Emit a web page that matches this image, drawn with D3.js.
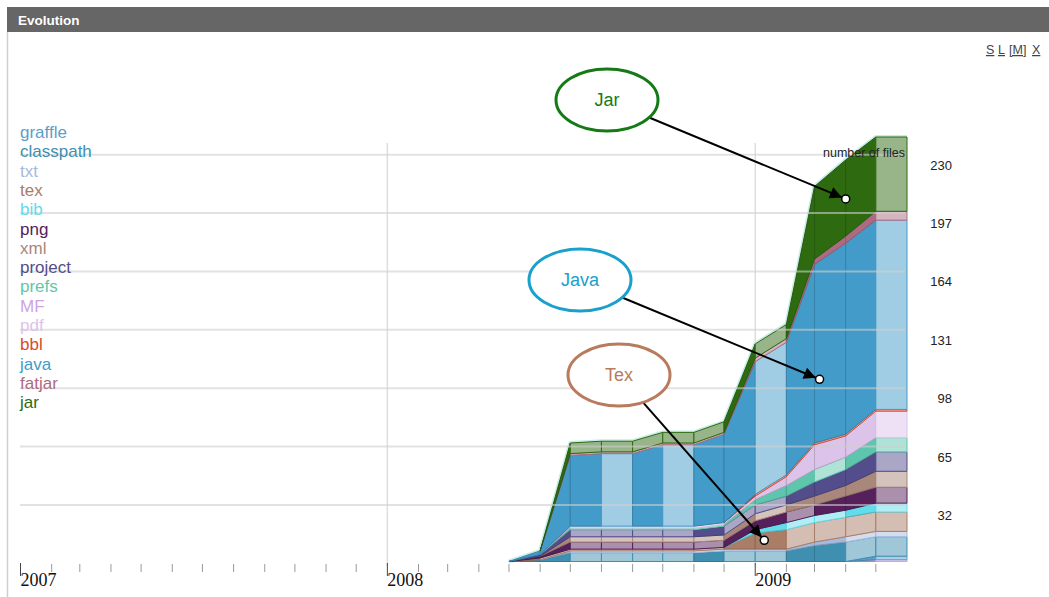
<!DOCTYPE html>
<html>
<head>
<meta charset="utf-8">
<script src="https://cdn.jsdelivr.net/npm/d3@7"></script>
<style>
  body { margin: 0; background: #fff; }
  svg { display: block; }
  text { font-family: "Liberation Sans", Arial, Helvetica, sans-serif; }
</style>
</head>
<body>
<svg id="chart" width="1049" height="597"></svg>
<script>
// Monthly snapshots of the repository (first day of each month)
const months = ["2008-05-01","2008-06-01","2008-07-01","2008-08-01","2008-09-01","2008-10-01","2008-11-01",
                "2008-12-01","2009-01-01","2009-02-01","2009-03-01","2009-04-01","2009-05-01","2009-06-01"];

// Number of files per type at each snapshot
const mf        = [0,0,0,0,0,0,0,0,0,0,0,0,1,1];
const graffle   = [0,0,0,0,0,0,0,0,0,0,0,0,2,2];
const classpath = [0,1,5,5,5,5,5,6,6,6,9,11,11,11];
const txt       = [0,0,1,1,1,1,1,1,1,1,2,3,3,3];
const tex       = [0,1,1,1,1,1,1,1,9,11,11,11,11,11];
const bib       = [0,0,0,0,0,0,0,0,2,4,4,4,5,5];
const png       = [0,1,4,4,4,4,4,4,5,6,6,8,9,9];
const xml       = [0,0,3,3,3,3,3,3,4,4,5,6,9,9];
const project   = [0,1,4,4,4,4,4,5,5,5,8,9,11,11];
const prefs     = [0,0,1,1,1,1,1,1,3,6,7,7,8,8];
const pdf       = [0,0,1,1,1,1,1,1,2,5,14,12,15,15];
const bbl       = [0,0,0,0,0,0,0,0,1,1,1,1,1,1];
const java      = [0,2,40,41,41,46,46,50,75,75,101,108,107,107];
const fatjar    = [0,0,1,1,1,1,1,1,2,2,3,4,5,5];
const jar       = [0,0,6,6,6,6,6,6,8,8,41,43,42,42];

// Stacking order (bottom to top) and legend order
const stackKeys  = ["MF","graffle","classpath","txt","tex","bib","png","xml","project","prefs","pdf","bbl","java","fatjar","jar"];
const legendKeys = ["graffle","classpath","txt","tex","bib","png","xml","project","prefs","MF","pdf","bbl","java","fatjar","jar"];
const yTickValues = [32, 65, 98, 131, 164, 197, 230];

const seriesValues = {
  MF: mf, graffle: graffle, classpath: classpath, txt: txt, tex: tex, bib: bib, png: png,
  xml: xml, project: project, prefs: prefs, pdf: pdf, bbl: bbl, java: java, fatjar: fatjar, jar: jar
};

const palette = {
  graffle: "#5a9eca", classpath: "#3f8fb1", txt: "#a6badd", tex: "#a97d66", bib: "#62dbea",
  png: "#55205b", xml: "#a9877a", project: "#534d8c", prefs: "#5fc6ae", MF: "#cda3e3",
  pdf: "#dcc3ea", bbl: "#d84a2e", java: "#439bc9", fatjar: "#ad6b83", jar: "#2e6b10"
};

// Callouts: label, colour, bubble centre, and the data point they point at
const notes = [
  { label: "Jar",  color: "#157a15", cx: 607, cy: 100, date: "2009-04-01", value: 205 },
  { label: "Java", color: "#19a0cd", cx: 580, cy: 280, date: "2009-03-06", value: 103 },
  { label: "Tex",  color: "#b97b5d", cx: 619, cy: 375, date: "2009-01-10", value: 12 }
];

const parse = d3.utcParse("%Y-%m-%d");
const start = parse("2007-01-01"), end = parse("2009-06-01");

const x = d3.scaleUtc().domain([start, end]).range([20.5, 907]);
const y = d3.scaleLinear().domain([0, 230]).range([561.5, 154.7]);

const rows = months.map((m, i) => {
  const r = { date: parse(m) };
  stackKeys.forEach(k => r[k] = seriesValues[k][i]);
  return r;
});
const stacked = d3.stack().keys(stackKeys)(rows);

const svg = d3.select("#chart");

// Panel header
svg.append("rect").attr("x", 7).attr("y", 7).attr("width", 1042).attr("height", 25).attr("fill", "#666");
svg.append("text").attr("x", 18).attr("y", 24.5).attr("font-size", 13.5).attr("font-weight", "bold")
  .attr("fill", "#fff").text("Evolution");
svg.append("line").attr("x1", 7.5).attr("x2", 7.5).attr("y1", 32).attr("y2", 597)
  .attr("stroke", "#cfcfcf").attr("stroke-width", 1.5);

// Size controls
const controls = [["S", 986], ["L", 998], ["[M]", 1009], ["X", 1032]];
svg.selectAll("text.ctl").data(controls).join("text").attr("class", "ctl")
  .attr("x", d => d[1]).attr("y", 54).attr("font-size", 12.5).attr("fill", "#444")
  .style("text-decoration", "underline").text(d => d[0]);

// Year grid lines (behind the stack)
const years = d3.utcYears(start, end);
svg.selectAll("line.ygrid").data(years.filter(d => d.getUTCFullYear() > 2007)).join("line")
  .attr("class", "ygrid")
  .attr("x1", d => x(d)).attr("x2", d => x(d)).attr("y1", 143).attr("y2", 566)
  .attr("stroke", "#dedede").attr("stroke-width", 1.5);

// Soft outline along the top of the stack
const stackTop = stacked[stacked.length - 1];
svg.append("path")
  .attr("d", d3.line().x(d => x(d.data.date)).y(d => y(d[1]))(stackTop))
  .attr("fill", "none").attr("stroke", "#c6ece6").attr("stroke-width", 4).attr("stroke-linejoin", "round");

// Stacked layers, one quadrilateral per month interval; intervals with no change are shaded lighter
const seg = d3.area().x(d => x(d.data.date)).y0(d => y(d[0])).y1(d => y(d[1]));
const layerG = svg.append("g");
stacked.forEach(layer => {
  const key = layer.key;
  const base = palette[key];
  const light = d3.interpolateRgb(base, "#fff")(0.5);
  for (let i = 0; i < layer.length - 1; i++) {
    const a = layer[i], b = layer[i + 1];
    const va = a.data[key], vb = b.data[key];
    if (va === 0 && vb === 0) continue;
    const same = va === vb;
    layerG.append("path")
      .attr("d", seg([a, b]))
      .attr("fill", same ? light : base)
      .attr("stroke", same ? base : d3.color(base).darker(0.5).formatHex())
      .attr("stroke-width", 1)
      .attr("stroke-linejoin", "round");
  }
});

// Horizontal grid lines drawn over the layers
svg.selectAll("line.hgrid").data(yTickValues).join("line").attr("class", "hgrid")
  .attr("x1", 20).attr("x2", 905).attr("y1", d => y(d)).attr("y2", d => y(d))
  .attr("stroke", "#cfcfcf").attr("stroke-opacity", 0.6).attr("stroke-width", 2);

// Right-hand value labels
svg.selectAll("text.ylab").data(yTickValues).join("text").attr("class", "ylab")
  .attr("x", 952).attr("y", d => y(d) + 15).attr("text-anchor", "end")
  .attr("font-size", 13).attr("fill", "#222").text(d => d);

svg.append("text").attr("x", 905).attr("y", 157).attr("text-anchor", "end")
  .attr("font-size", 12.5).attr("fill", "#222").text("number of files");

// Time axis: month ticks and year labels
svg.selectAll("line.mtick").data(d3.utcMonths(start, end)).join("line").attr("class", "mtick")
  .attr("x1", d => x(d)).attr("x2", d => x(d))
  .attr("y1", d => d.getUTCMonth() === 0 ? 563 : 564)
  .attr("y2", d => d.getUTCMonth() === 0 ? 576 : 572)
  .attr("stroke", d => d.getUTCMonth() === 0 ? "#444" : "#999").attr("stroke-width", 1);

svg.selectAll("text.year").data(years).join("text").attr("class", "year")
  .attr("x", d => x(d)).attr("y", 586)
  .style("font-family", '"Liberation Serif", "Times New Roman", serif')
  .attr("font-size", 18).attr("fill", "#111")
  .text(d => d.getUTCFullYear());

// Legend
svg.selectAll("text.legend").data(legendKeys).join("text").attr("class", "legend")
  .attr("x", 20).attr("y", (d, i) => 138 + i * 19.3)
  .attr("font-size", 17).attr("fill", d => palette[d]).text(d => d);

// Callouts
const defs = svg.append("defs");
defs.append("marker").attr("id", "arrowhead").attr("viewBox", "0 0 10 10")
  .attr("refX", 10).attr("refY", 5).attr("markerWidth", 8.5).attr("markerHeight", 6)
  .attr("markerUnits", "strokeWidth").attr("orient", "auto")
  .append("path").attr("d", "M0,0L10,5L0,10z").attr("fill", "#000");

const rx = 51, ry = 31, dotR = 4;
notes.forEach(n => {
  const tx = x(parse(n.date)), ty = y(n.value);
  const dx = tx - n.cx, dy = ty - n.cy;
  const k = 1 / Math.sqrt((dx / rx) ** 2 + (dy / ry) ** 2);
  const sx = n.cx + dx * k, sy = n.cy + dy * k;
  const len = Math.hypot(tx - sx, ty - sy);
  const ex = tx - (tx - sx) / len * dotR, ey = ty - (ty - sy) / len * dotR;
  svg.append("line").attr("x1", sx).attr("y1", sy).attr("x2", ex).attr("y2", ey)
    .attr("stroke", "#000").attr("stroke-width", 2).attr("marker-end", "url(#arrowhead)");
  svg.append("circle").attr("cx", tx).attr("cy", ty).attr("r", dotR)
    .attr("fill", "#fff").attr("stroke", "#000").attr("stroke-width", 1.5);
  svg.append("ellipse").attr("cx", n.cx).attr("cy", n.cy).attr("rx", rx).attr("ry", ry)
    .attr("fill", "#fff").attr("stroke", n.color).attr("stroke-width", 3);
  svg.append("text").attr("x", n.cx).attr("y", n.cy + 6).attr("text-anchor", "middle")
    .attr("font-size", 18).attr("fill", n.color).text(n.label);
});
</script>
</body>
</html>
